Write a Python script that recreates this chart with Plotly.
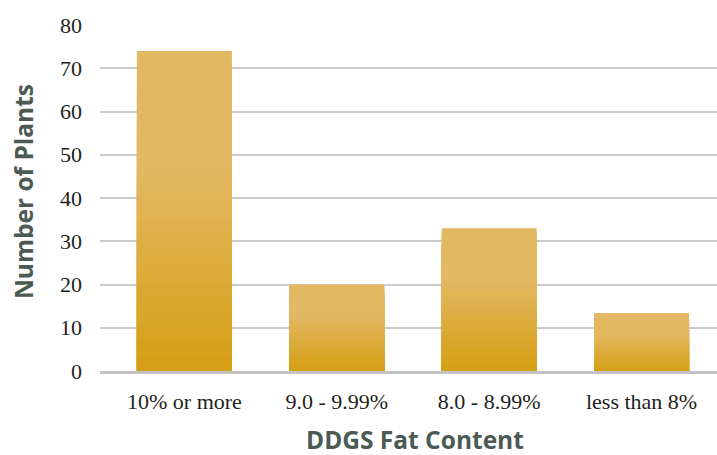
import plotly.graph_objects as go

categories = ["10% or more", "9.0 - 9.99%", "8.0 - 8.99%", "less than 8%"]
plants = [74, 20, 33, 13.4]
y_ticks = [0, 10, 20, 30, 40, 50, 60, 70, 80]

top_rgb = (227, 184, 98)
bottom_rgb = (212, 158, 18)
n_slices = 40


def slice_color(t):
    # t: relative height in bar (0 bottom, 1 top)
    s = min(t / 0.65, 1.0)
    c = [round(b + (a - b) * s) for a, b in zip(top_rgb, bottom_rgb)]
    return f"rgb({c[0]},{c[1]},{c[2]})"


fig = go.Figure()
for k in range(n_slices):
    frac = 1 - k / n_slices
    fig.add_trace(go.Bar(
        x=categories,
        y=[v * frac for v in plants],
        marker=dict(color=slice_color(frac), line=dict(width=0)),
        width=0.623,
        hoverinfo="skip" if k else "y",
        showlegend=False,
    ))

title_font = dict(family="Open Sans", size=24.5, color="#4b5a52", weight="bold")

fig.update_layout(
    width=717, height=455,
    margin=dict(l=100, r=0, t=25, b=84),
    paper_bgcolor="white", plot_bgcolor="white",
    barmode="overlay",
    xaxis=dict(
        range=[-0.554, 3.495], automargin=False,
        showgrid=False,
        showline=True, linecolor="#c3c3c6", linewidth=3,
        ticks="", ticklabelstandoff=9,
        tickfont=dict(family="Liberation Serif", size=22, color="#231f20"),
    ),
    yaxis=dict(
        range=[0, 80], tickvals=y_ticks, automargin=False,
        showgrid=True, gridcolor="#cbcbce", gridwidth=1.5,
        zeroline=False, showline=False,
        ticks="", ticklabelstandoff=17,
        tickfont=dict(family="Liberation Serif", size=22, color="#231f20"),
    ),
    annotations=[
        dict(text="DDGS Fat Content", xref="paper", yref="paper",
             x=0.5105, y=-68 / 346, xanchor="center", yanchor="middle",
             showarrow=False, font=title_font),
        dict(text="Number of Plants", xref="paper", yref="paper",
             x=-77 / 617, y=0.517, xanchor="center", yanchor="middle",
             textangle=-90, showarrow=False, font=title_font),
    ],
)

fig.write_html("out.html")
